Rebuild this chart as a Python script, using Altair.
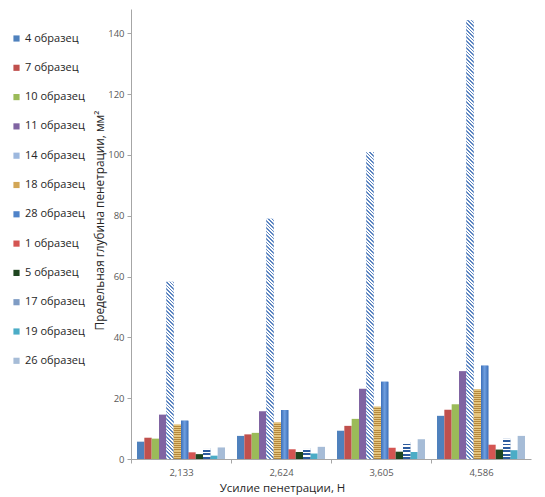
import math
import altair as alt
import pandas as pd

# ---- data ----
categories = ["2,133", "2,624", "3,605", "4,586"]
series = ["4 образец", "7 образец", "10 образец", "11 образец", "14 образец",
          "18 образец", "28 образец", "1 образец", "5 образец", "17 образец",
          "19 образец", "26 образец"]
v4 = [5.7, 7.6, 9.3, 14.2]
v7 = [7.0, 8.1, 10.9, 16.2]
v10 = [6.7, 8.6, 13.2, 18.0]
v11 = [14.6, 15.7, 23.1, 28.9]
v14 = [58.3, 79.0, 101.0, 144.3]
v18 = [11.3, 12.0, 17.2, 22.9]
v28 = [12.6, 16.1, 25.4, 30.7]
v1 = [2.2, 3.2, 3.7, 4.7]
v5 = [1.6, 2.3, 2.4, 3.1]
v17 = [3.6, 3.6, 5.6, 6.7]
v19 = [1.1, 1.8, 2.3, 2.9]
v26 = [3.8, 4.0, 6.5, 7.6]
all_values = [v4, v7, v10, v11, v14, v18, v28, v1, v5, v17, v19, v26]

colors = ["#4F81BD", "#C0504D", "#9BBB59", "#8064A2", "#9DB8DE", "#D2A656",
          "#4F83C9", "#D45552", "#1E4620", "#7F9CC4", "#4BACC6", "#A6BCD7"]

rows = []
for s, vals in zip(series, all_values):
    for c, v in zip(categories, vals):
        rows.append({"force": c, "series": s, "value": v})
df = pd.DataFrame(rows)

# ---- layout ----
W_PLOT, H_PLOT = 400, 450
Y_MAX = 148
PX = H_PLOT / Y_MAX
BAR_W = 400 * 0.88 / 4 / 12
FONT = "Open Sans"

x_enc = alt.X("force:N", sort=categories,
              scale=alt.Scale(domain=categories, paddingInner=0.12, paddingOuter=0.06),
              axis=alt.Axis(title="Усилие пенетрации, Н", labelAngle=0,
                            tickOffset=-50, labelOffset=50, tickSize=4,
                            labelPadding=4, titleX=151, titlePadding=6))
xo_enc = alt.XOffset("series:N", sort=series,
                     scale=alt.Scale(domain=series, paddingInner=0, paddingOuter=0))
y_enc = alt.Y("value:Q", scale=alt.Scale(domain=[0, Y_MAX], nice=False),
              axis=alt.Axis(title="Предельная глубина пенетрации, мм²",
                            values=[0, 20, 40, 60, 80, 100, 120, 140],
                            tickSize=4, labelPadding=3, titlePadding=2,
                            titleY=211, titleFontSize=11.8, grid=False))

base = alt.Chart(df).mark_bar(strokeWidth=0).encode(
    x=x_enc, xOffset=xo_enc, y=y_enc,
    color=alt.Color("series:N", sort=series,
                    scale=alt.Scale(domain=series, range=colors),
                    legend=alt.Legend(title=None, orient="none", legendX=-120,
                                      legendY=24, symbolType="square",
                                      symbolSize=38, symbolStrokeWidth=0,
                                      labelOffset=3,
                                      labelFont=FONT, labelFontSize=11,
                                      labelColor="#262626", rowPadding=17.3)))


def stops_from(bands):
    out = []
    for o, c in bands:
        out.append(alt.GradientStop(offset=round(min(max(o, 0), 1), 5), color=c))
    return out


def hstripes(n, c1, c2, duty=0.5):
    b = []
    for k in range(n):
        a = k / n
        m = (k + duty) / n
        e = (k + 1) / n
        b += [(a, c1), (m, c1), (m, c2), (e, c2)]
    return alt.LinearGradient(gradient="linear", stops=stops_from(b),
                              x1=0, y1=0, x2=0, y2=1)


def diag(H, c1, c2, period=3.6, duty=0.45):
    W = BAR_W
    lam = (W + H) / (W * W + H * H)
    L = W + H
    n = int(math.ceil(L / period))
    b = []
    for k in range(n):
        a = k * period / L
        m = (k + duty) * period / L
        e = (k + 1) * period / L
        b += [(a, c1), (m, c1), (m, c2), (e, c2)]
    return alt.LinearGradient(gradient="linear", stops=stops_from(b),
                              x1=0, y1=1, x2=lam * W, y2=1 - lam * H)


layers = [base]


def overlay(s, g, fill):
    return alt.Chart(df).transform_filter(
        f"datum.series === '{s}' && datum.force === '{g}'"
    ).mark_bar(fill=fill, strokeWidth=0).encode(x=x_enc, xOffset=xo_enc, y=y_enc)


for g, v in zip(categories, v14):
    layers.append(overlay("14 образец", g, diag(v * PX, "#5B84C0", "#FFFFFF")))
for g, v in zip(categories, v18):
    n = max(1, int(round(v * PX / 2.2)))
    layers.append(overlay("18 образец", g, hstripes(n, "#E4C47E", "#B5883C", 0.55)))
for g, v in zip(categories, v17):
    n = max(1, int(round(v * PX / 3.2)))
    layers.append(overlay("17 образец", g, hstripes(n, "#FFFFFF", "#2E5C9E", 0.45)))

grad28 = alt.LinearGradient(gradient="linear", x1=0, y1=0, x2=1, y2=0, stops=[
    alt.GradientStop(offset=0, color="#3C6FB8"),
    alt.GradientStop(offset=0.5, color="#6F9FE0"),
    alt.GradientStop(offset=1, color="#3C6FB8")])
for g in categories:
    layers.append(overlay("28 образец", g, grad28))

chart = alt.layer(*layers).properties(
    width=W_PLOT, height=H_PLOT,
    autosize=alt.AutoSizeParams(type="none"),
    padding={"left": 123, "top": 1, "right": 6, "bottom": 38},
    background="white",
).configure_view(stroke=None).configure_axis(
    labelFont=FONT, titleFont=FONT, labelFontSize=9.5, labelColor="#595959",
    titleFontSize=11.5, titleFontWeight="normal", titleColor="#262626",
    domainColor="#A6A6A6", tickColor="#A6A6A6",
)

chart.save("out.html", embed_options={"renderer": "svg", "actions": False})
